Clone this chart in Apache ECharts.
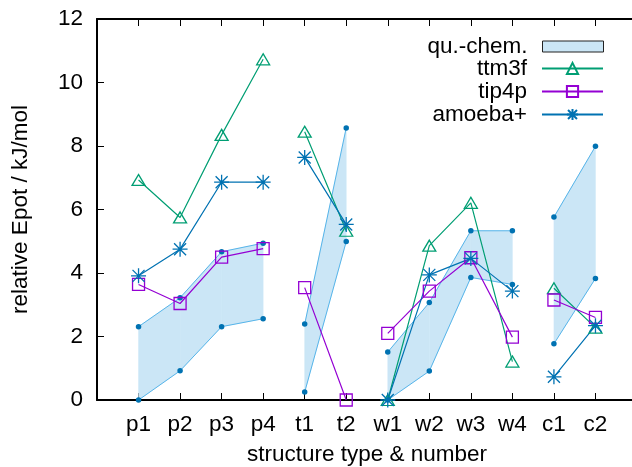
<!DOCTYPE html>
<html>
<head>
<meta charset="utf-8">
<script src="https://cdn.jsdelivr.net/npm/echarts@6/dist/echarts.min.js"></script>
<style>
  html, body { margin: 0; padding: 0; background: #fff; }
  #chart { width: 632px; height: 467px; }
</style>
</head>
<body>
<div id="chart"></div>
<script>
// structure labels and how they are grouped (p, t, w, c)
const categories = ['p1', 'p2', 'p3', 'p4', 't1', 't2', 'w1', 'w2', 'w3', 'w4', 'c1', 'c2'];
const groupSizes = [4, 2, 4, 2];

// relative Epot in kJ/mol
const quLower = [0, 0.92, 2.31, 2.56, 0.25, 4.99, 0, 0.91, 3.86, 3.64, 1.77, 3.83];
const quUpper = [2.31, 3.22, 4.67, 4.94, 2.39, 8.57, 1.51, 3.07, 5.33, 5.33, 5.76, 7.99];
const ttm3f = [6.93, 5.75, 8.35, 10.73, 8.45, 5.33, 0, 4.86, 6.21, 1.21, 3.52, 2.28];
const tip4p = [3.64, 3.04, 4.50, 4.77, 3.54, 0, 2.10, 3.43, 4.48, 1.98, 3.15, 2.60];
const amoeba = [3.91, 4.75, 6.86, 6.86, 7.64, 5.53, 0, 3.94, 4.46, 3.43, 0.73, 2.34];

const yTicks = [0, 2, 4, 6, 8, 10, 12];

const FONT = 'Liberation Sans';
const FS = 22.5;
const col = {
    band: '#cbe6f6',
    bandLine: '#56b4e9',
    bandDot: '#0072b2',
    ttm3f: '#009e73',
    tip4p: '#9400d3',
    amoeba: '#0072b2'
};

// group index for every category
const groupOf = [];
groupSizes.forEach((n, g) => { for (let k = 0; k < n; k++) groupOf.push(g); });

// [x, y] pairs with a break between groups
function withBreaks(values) {
    const out = [];
    values.forEach((v, i) => {
        out.push([i, v]);
        if (i < values.length - 1 && groupOf[i + 1] !== groupOf[i]) out.push([i + 0.5, '-']);
    });
    return out;
}

// band segments between neighbours of the same group
const bandData = [];
for (let i = 0; i < categories.length - 1; i++) {
    if (groupOf[i] === groupOf[i + 1])
        bandData.push([i, quLower[i], quUpper[i], i + 1, quLower[i + 1], quUpper[i + 1]]);
}

const starPath = 'path://M5 0V10M0 5H10M1 1L9 9M1 9L9 1';

function lineSeries(name, values, color, symbol, size) {
    return {
        name,
        type: 'line',
        data: withBreaks(values),
        symbol,
        symbolSize: size,
        showSymbol: true,
        lineStyle: {color, width: 1.2},
        itemStyle: {color: 'rgba(255,255,255,0)', borderColor: color, borderWidth: 1.3},
        z: 4
    };
}

function legendRow(name, top, extra) {
    return Object.assign({
        data: [name],
        orient: 'vertical',
        align: 'right',
        right: 28,
        top,
        padding: 0,
        itemWidth: 61,
        itemHeight: 14,
        selectedMode: false,
        textStyle: {fontFamily: FONT, fontSize: FS, color: '#000', padding: [0, 10, 0, 0]}
    }, extra || {});
}

const axisBase = {
    type: 'value',
    min: -1,
    max: 12,
    interval: 1,
    axisLine: {onZero: false, lineStyle: {color: '#000', width: 2}},
    axisTick: {inside: true, length: 7, lineStyle: {color: '#000', width: 1}},
    splitLine: {show: false}
};

const chart = echarts.init(document.getElementById('chart'), null, {renderer: 'canvas'});

chart.setOption({
    animation: false,
    backgroundColor: '#fff',
    grid: {left: 97, right: -5, top: 19, bottom: 67, outerBoundsMode: 'none', containLabel: false},
    legend: [
        legendRow('qu.-chem.', 35, {
            itemHeight: 11,
            data: [{name: 'qu.-chem.', icon: 'rect', itemStyle: {color: col.band, borderColor: '#222', borderWidth: 1}}]
        }),
        legendRow('ttm3f', 57),
        legendRow('tip4p', 80),
        legendRow('amoeba+', 103)
    ],
    xAxis: [
        Object.assign({}, axisBase, {
            name: 'structure type & number',
            nameLocation: 'middle',
            nameGap: 43,
            nameTextStyle: {fontFamily: FONT, fontSize: FS, color: '#000'},
            axisLabel: {
                margin: 13,
                fontFamily: FONT, fontSize: FS, color: '#000',
                formatter: (v) => categories[v] || ''
            }
        }),
        Object.assign({}, axisBase, {
            position: 'top',
            axisLabel: {show: false}
        })
    ],
    yAxis: {
        type: 'value',
        min: yTicks[0],
        max: yTicks[yTicks.length - 1],
        interval: 2,
        name: 'relative Epot / kJ/mol',
        nameLocation: 'middle',
        nameGap: 65,
        nameTextStyle: {fontFamily: FONT, fontSize: FS, color: '#000'},
        axisLine: {show: true, onZero: false, lineStyle: {color: '#000', width: 2}},
        axisTick: {show: true, inside: true, length: 7, lineStyle: {color: '#000', width: 1}},
        axisLabel: {margin: 14, fontFamily: FONT, fontSize: FS, color: '#000'},
        splitLine: {show: false}
    },
    series: [
        {
            name: 'qu.-chem.',
            type: 'custom',
            data: bandData,
            encode: {x: [0, 3], y: [1, 2, 4, 5]},
            z: 1,
            itemStyle: {color: col.band},
            renderItem: (params, api) => {
                const a = api.coord([api.value(0), api.value(1)]);
                const b = api.coord([api.value(3), api.value(4)]);
                const c = api.coord([api.value(3), api.value(5)]);
                const d = api.coord([api.value(0), api.value(2)]);
                return {
                    type: 'polygon',
                    shape: {points: [a, b, c, d]},
                    style: {fill: col.band, stroke: col.band, lineWidth: 0.5}
                };
            }
        },
        {
            name: 'qu-lower',
            type: 'line',
            data: withBreaks(quLower),
            symbol: 'circle',
            symbolSize: 5.5,
            lineStyle: {color: col.bandLine, width: 1},
            itemStyle: {color: col.bandDot},
            z: 2
        },
        {
            name: 'qu-upper',
            type: 'line',
            data: withBreaks(quUpper),
            symbol: 'circle',
            symbolSize: 5.5,
            lineStyle: {color: col.bandLine, width: 1},
            itemStyle: {color: col.bandDot},
            z: 2
        },
        lineSeries('ttm3f', ttm3f, col.ttm3f, 'triangle', [13, 11]),
        lineSeries('tip4p', tip4p, col.tip4p, 'rect', 12),
        lineSeries('amoeba+', amoeba, col.amoeba, starPath, 15)
    ]
});
</script>
</body>
</html>
